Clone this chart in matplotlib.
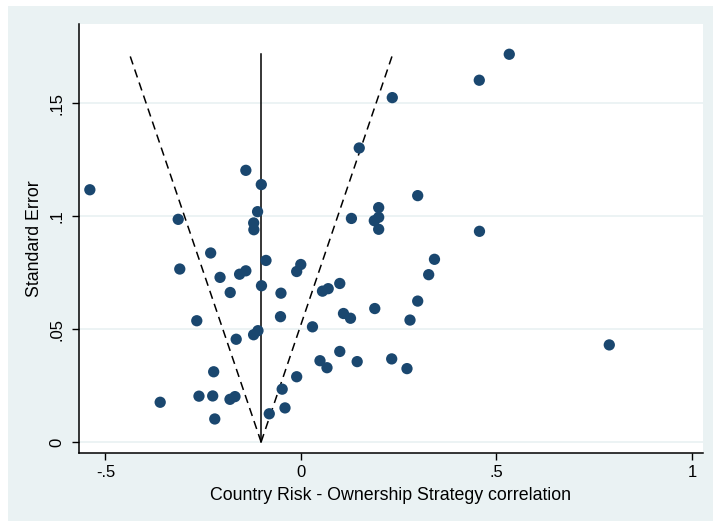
import matplotlib.pyplot as plt
import numpy as np
from matplotlib.patches import Rectangle

plt.rcParams['font.family'] = ['Liberation Sans', 'DejaVu Sans']

# study estimates (correlation) and their standard errors
effect = [-0.540, -0.314, -0.231, -0.310, -0.207, -0.181, -0.157, -0.141, -0.141, -0.1015,
          -0.111, -0.121, -0.1205, -0.0895, -0.101, -0.0512, -0.011, -0.0005, 0.129, 0.055,
          0.0696, 0.0992, 0.149, 0.2985, 0.1987, 0.1987, 0.1875, 0.1987, 0.4565, 0.3414,
          0.3266, 0.2985, -0.2665, -0.1657, -0.2233, -0.3601, -0.2609, -0.2258, -0.1816, -0.1688,
          -0.2205, -0.0524, -0.1212, -0.110, 0.0294, -0.011, -0.0481, -0.0409, -0.0811, 0.0486,
          0.0665, 0.0992, 0.1437, 0.1087, 0.1266, 0.1887, 0.2788, 0.232, 0.2711, 0.5327,
          0.456, 0.2335, 0.7885]
std_err = [0.1117, 0.0986, 0.0837, 0.0766, 0.0729, 0.0662, 0.0743, 0.0758, 0.1203, 0.1140,
           0.1020, 0.0970, 0.0940, 0.0804, 0.0692, 0.0659, 0.0755, 0.0786, 0.0990, 0.0668,
           0.0679, 0.0702, 0.1302, 0.1091, 0.1038, 0.0995, 0.0980, 0.0942, 0.0933, 0.0809,
           0.0741, 0.0624, 0.0537, 0.0455, 0.0311, 0.0176, 0.0203, 0.0204, 0.0189, 0.0201,
           0.0102, 0.0555, 0.0475, 0.0493, 0.0510, 0.0289, 0.0234, 0.0151, 0.0125, 0.0360,
           0.0329, 0.0401, 0.0356, 0.0569, 0.0548, 0.0591, 0.0540, 0.0368, 0.0325, 0.1717,
           0.1602, 0.1525, 0.0430]

pooled = -0.102  # pooled estimate
xticks = [-0.5, 0, 0.5, 1]
xtick_labels = ['-.5', '0', '.5', '1']
yticks = [0, 0.05, 0.1, 0.15]
ytick_labels = ['0', '.05', '.1', '.15']

bg = '#eaf2f3'
navy = '#1a476f'

fig = plt.figure(figsize=(7.13, 5.21), dpi=100, facecolor='white')
fig.patches.append(Rectangle((8 / 713, 0), 1, 1 - 6 / 521, transform=fig.transFigure,
                             facecolor=bg, edgecolor='none', zorder=-10))

ax = fig.add_axes([78.7 / 713, 1 - 453.3 / 521, 624 / 713, 429.3 / 521])
ax.set_facecolor('white')

# funnel: pooled line and pseudo 95% limits
se_max = max(std_err)
se_line = np.array([0, se_max])
ax.plot([pooled, pooled], se_line, color='black', lw=1.1, zorder=2)
ax.plot(pooled - 1.96 * se_line, se_line, color='black', lw=1.1, ls=(0, (5.5, 3.5)), zorder=2)
ax.plot(pooled + 1.96 * se_line, se_line, color='black', lw=1.1, ls=(0, (5.5, 3.5)), zorder=2)

ax.scatter(effect, std_err, s=66, color=navy, edgecolors='none', zorder=3)

ax.set_xlim(-0.5685, 1.0274)
ax.set_ylim(-0.005, 0.1851)
ax.set_xticks(xticks, xtick_labels)
ax.set_yticks(yticks, ytick_labels)
for t in ax.get_yticklabels():
    t.set_rotation(90)
    t.set_va('center')

for y in yticks:
    ax.axhline(y, color=bg, lw=1.3, zorder=1)

for s in ['top', 'right']:
    ax.spines[s].set_visible(False)
for s in ['left', 'bottom']:
    ax.spines[s].set_linewidth(1.1)
ax.tick_params(axis='both', length=5, width=1, labelsize=12, color='black')
ax.tick_params(axis='x', pad=3.5)
ax.tick_params(axis='y', pad=5)

ax.set_xlabel('Country Risk - Ownership Strategy correlation', fontsize=12.8, labelpad=5)
ax.set_ylabel('Standard Error', fontsize=12.8, labelpad=5)

fig.savefig('out.png', dpi=100, facecolor=fig.get_facecolor())
